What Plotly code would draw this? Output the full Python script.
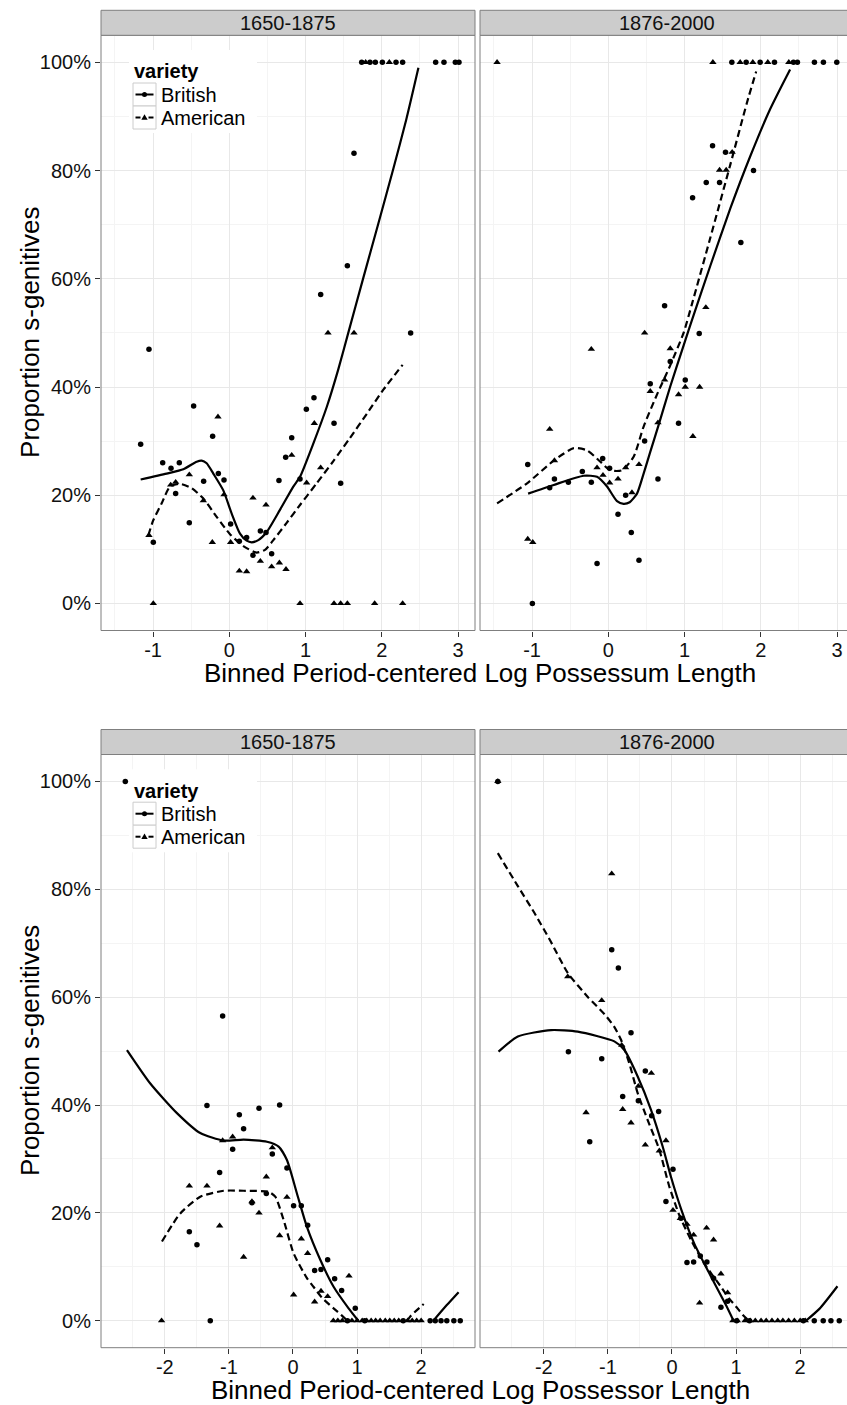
import plotly.graph_objects as go

W, H = 847, 1405
FONT = "Liberation Sans, Arial, Helvetica, sans-serif"

# ---------------- data (x = binned centred log length, y = % s-genitives) ----------------
PERIODS = ["1650-1875", "1876-2000"]
VARIETIES = ["British", "American"]
X_TITLE_TOP = "Binned Period-centered Log Possessum Length"
X_TITLE_BOT = "Binned Period-centered Log Possessor Length"
Y_TITLE = "Proportion s-genitives"
Y_TICKS = [0, 20, 40, 60, 80, 100]
Y_TICKTEXT = ["0%", "20%", "40%", "60%", "80%", "100%"]
X_TICKS_TOP = [-1, 0, 1, 2, 3]
X_TICKS_BOT = [-2, -1, 0, 1, 2]

# --- Possessum, 1650-1875 ---
TL_BRI_X = [-1.054, -1.163, -0.874, -0.765, -0.656, -0.704, -0.468, -0.337, -0.525, -0.219, -0.144, -0.070,
            -0.997, 0.017, 0.131, 0.227, 0.310, 0.407, 0.481, 0.555, 0.651, 0.739, 0.818, 0.927, 1.010,
            1.110, 1.373, 1.460, 2.378, 1.635, 1.548, 1.198,
            1.736, 1.845, 1.915, 2.007, 2.186, 2.273, 2.706, 2.815, 2.964, 3.012]
TL_BRI_Y = [47.0, 29.4, 26.0, 25.0, 26.0, 20.3, 36.5, 22.6, 14.9, 30.9, 24.0, 22.8,
            11.3, 14.7, 11.5, 12.2, 8.9, 13.4, 13.1, 9.2, 22.7, 27.0, 30.6, 23.0, 35.9,
            38.0, 33.3, 22.2, 50.0, 83.2, 62.4, 57.1,
            100, 100, 100, 100, 100, 100, 100, 100, 100, 100]
TL_AME_X = [-0.149, -0.525, -0.704, -0.769, -0.341, -0.070, -1.054, -0.997, -0.223, 0.017, 0.131, 0.227,
            0.310, 0.481, 0.407, 0.555, 0.656, 0.743, 0.818, 1.014, 1.115, 1.198, 1.294, 1.635,
            0.927, 1.373, 1.460, 1.548, 1.906, 2.273, 1.788, 2.098]
TL_AME_Y = [34.5, 23.8, 22.4, 21.9, 19.0, 20.1, 12.6, 0.0, 11.3, 11.3, 6.0, 5.9,
            19.5, 18.2, 7.8, 6.8, 7.5, 6.3, 27.4, 22.3, 33.3, 25.1, 50.0, 50.0,
            0.0, 0.0, 0.0, 0.0, 0.0, 0.0, 100, 100]
TL_BRI_FIT_X = [-1.163, -0.822, -0.603, -0.428, -0.363, -0.297, -0.210, -0.079, 0.031, 0.140, 0.227, 0.293,
                0.380, 0.490, 0.664, 0.839, 0.927, 1.100, 1.280, 1.430, 1.560, 1.750, 1.950, 2.150, 2.320, 2.480]
TL_BRI_FIT_Y = [22.9, 24.0, 24.8, 26.2, 26.4, 25.9, 24.0, 20.9, 16.6, 12.9, 11.6, 11.3,
                11.7, 13.2, 17.3, 21.6, 23.4, 29.5, 36.4, 43.3, 50.0, 59.8, 70.0, 80.3, 89.4, 99.0]
TL_AME_FIT_X = [-1.062, -0.997, -0.887, -0.778, -0.647, -0.494, -0.341, -0.166, 0.009, 0.184, 0.358, 0.468,
                0.577, 0.752, 0.927, 1.145, 1.364, 1.583, 1.801, 2.020, 2.273]
TL_AME_FIT_Y = [12.6, 15.4, 18.5, 21.6, 22.1, 21.3, 19.4, 16.0, 12.8, 10.6, 9.4, 9.9,
                11.7, 14.9, 18.2, 22.2, 26.3, 30.6, 35.0, 39.5, 44.1]

# --- Possessum, 1876-2000 ---
TR_BRI_X = [1.620, 1.808, 1.991, 2.179, 2.428, 2.480, 2.703, 2.821, 2.996,
            1.367, 1.537, 1.904, 1.284, 1.459, 1.105, 1.738, 0.738,
            -1.057, -0.996, -0.769, -0.707, -0.524, -0.341, -0.223, -0.074, 0.017, 0.127, 0.227, 0.301,
            0.402, -0.148, 0.476, 0.550, 0.651, 0.812, 0.921, 1.009, 1.192]
TR_BRI_Y = [100, 100, 100, 100, 100, 100, 100, 100, 100,
            84.6, 83.4, 80.0, 77.8, 77.8, 75.0, 66.7, 55.0,
            25.7, 0.0, 21.4, 23.0, 22.4, 24.4, 22.4, 26.8, 25.0, 16.5, 20.0, 13.1,
            8.0, 7.4, 30.0, 40.6, 23.0, 44.7, 33.3, 41.3, 49.9]
TR_AME_X = [-1.459, 1.371, 1.729, 1.895, 2.092, 2.367,
            1.624, 1.459, 1.546, 1.279,
            -0.769, -0.707, -1.057, -0.991, -0.223, -0.148, -0.070, 0.017, 0.127, 0.227, 0.310, 0.402,
            0.476, 0.550, 0.651, 0.738, 0.812, 0.921, 1.009, 1.109, 1.197]
TR_AME_Y = [100, 100, 100, 100, 100, 100,
            83.4, 80.1, 80.1, 54.7,
            32.2, 26.4, 11.9, 11.3, 47.0, 25.1, 23.7, 22.3, 23.0, 25.1, 20.5, 25.7,
            50.0, 39.2, 33.4, 41.3, 47.1, 38.6, 40.0, 30.9, 40.0]
TR_BRI_FIT_X = [-1.052, -0.716, -0.323, -0.148, -0.017, 0.114, 0.200, 0.280, 0.376, 0.463, 0.550, 0.660,
                0.810, 0.990, 1.100, 1.340, 1.600, 1.860, 2.120, 2.384]
TR_BRI_FIT_Y = [20.3, 21.9, 23.6, 23.4, 21.6, 18.9, 18.4, 18.7, 20.3, 24.0, 28.0, 33.0,
                40.0, 47.8, 52.5, 62.5, 73.0, 82.6, 91.3, 98.7]
TR_AME_FIT_X = [-1.459, -1.066, -0.716, -0.454, -0.279, -0.105, 0.026, 0.179, 0.332, 0.463, 0.638, 0.812,
                0.987, 1.100, 1.336, 1.598, 1.817, 1.939]
TR_AME_FIT_Y = [18.5, 22.2, 26.4, 28.7, 28.3, 26.2, 24.6, 24.6, 27.1, 32.7, 38.6, 44.0,
                50.0, 55.5, 67.5, 81.0, 92.5, 98.3]

# --- Possessor, 1650-1875 ---
BL_BRI_X = [-2.616, -1.097, -1.342, -0.837, -0.530, -0.208, -0.770, -0.941, -0.322, -0.094, -1.144, -0.416,
            -0.640, 0.010, 0.130, 0.229, -1.617, -1.498, 0.541, 0.338, 0.437, 0.650, 0.759, 0.972,
            -1.290, 0.850, 1.120, 1.720, 2.140, 2.220, 2.310, 2.400, 2.510, 2.610]
BL_BRI_Y = [100, 56.5, 39.9, 38.2, 39.4, 40.0, 35.6, 31.8, 30.9, 28.3, 27.5, 23.6,
            21.9, 21.3, 21.3, 17.7, 16.5, 14.1, 11.3, 9.3, 9.5, 7.8, 5.6, 2.3,
            0, 0, 0, 0, 0, 0, 0, 0, 0, 0]
BL_AME_X = [-1.097, -0.941, -0.322, -0.416, -1.617, -1.342, -0.094, -0.640, -0.530, -1.144, -0.208, 0.130,
            -0.770, 0.229, 0.010, 0.338, 0.437, 0.541, 0.874, -2.050,
            0.63, 0.70, 0.77, 0.92, 1.00, 1.08, 1.15, 1.22, 1.29, 1.36, 1.44, 1.51, 1.58, 1.65,
            1.79, 1.86, 1.93, 2.00]
BL_AME_Y = [33.4, 34.1, 32.1, 26.7, 25.0, 25.0, 22.9, 22.1, 20.0, 17.6, 15.8, 15.2,
            11.8, 12.5, 4.8, 3.5, 5.5, 4.5, 8.3, 0.0,
            0, 0, 0, 0, 0, 0, 0, 0, 0, 0, 0, 0, 0, 0,
            0, 0, 0, 0]
BL_BRI_FIT_X = [-2.590, -2.226, -1.810, -1.446, -1.082, -0.770, -0.406, -0.224, -0.094, 0.062, 0.218, 0.426,
                0.634, 0.868, 1.020, None, 2.190, 2.400, 2.584]
BL_BRI_FIT_Y = [50.2, 44.0, 38.5, 34.8, 33.4, 33.6, 33.2, 32.3, 29.8, 23.6, 17.4, 11.3,
                6.3, 2.3, 0.0, None, 0.0, 2.9, 5.3]
BL_AME_FIT_X = [-2.044, -1.758, -1.446, -1.082, -0.770, -0.380, -0.276, -0.146, 0.010, 0.218, 0.320, 0.450,
                0.634, 0.760, 0.850, None, 1.780, 1.830, 2.040]
BL_AME_FIT_Y = [14.7, 19.9, 23.0, 24.1, 24.1, 23.9, 23.0, 18.7, 12.5, 7.9, 6.3, 4.3,
                2.3, 1.0, 0.0, None, 0.0, 0.8, 3.1]

# --- Possessor, 1876-2000 ---
BR_BRI_X = [-2.717, -0.940, -0.836, -0.639, -1.616, -1.096, -0.416, -0.769, -0.525, -0.208, -0.317, -1.283,
            0.016, -0.094, 0.140, 0.234, 0.338, 0.442, 0.545, 0.649, 0.868, 0.764,
            1.01, 1.21, 2.05, 2.22, 2.36, 2.48, 2.61]
BR_BRI_Y = [100, 68.8, 65.4, 53.4, 49.9, 48.6, 46.3, 41.6, 40.8, 38.8, 38.0, 33.2,
            28.1, 22.1, 19.0, 10.8, 10.9, 12.0, 10.9, 7.9, 3.6, 2.5,
            0, 0, 0, 0, 0, 0, 0]
BR_AME_X = [-2.717, -0.940, -1.626, -1.096, -0.784, -0.322, -0.525, -1.340, -0.769, -0.639, -0.416, -0.197,
            -0.094, 0.016, 0.130, 0.234, 0.338, 0.540, 0.649, 0.764, 0.868, 0.431,
            0.95, 1.02, 1.14, 1.22, 1.30, 1.39, 1.47, 1.56, 1.65, 1.73, 1.82, 1.91, 2.00, 2.08]
BR_AME_Y = [100, 82.9, 63.8, 59.4, 51.1, 45.9, 43.5, 38.6, 39.2, 36.7, 32.6, 31.5,
            33.4, 20.5, 19.0, 17.9, 15.9, 17.2, 15.0, 8.7, 5.2, 3.3,
            0, 0, 0, 0, 0, 0, 0, 0, 0, 0, 0, 0, 0, 0]
BR_BRI_FIT_X = [-2.706, -2.405, -1.886, -1.470, -0.899, -0.743, -0.535, -0.327, -0.145, -0.016, 0.140, 0.348,
                0.608, 0.842, 0.960, None, 2.090, 2.300, 2.582]
BR_BRI_FIT_Y = [49.9, 52.7, 53.9, 53.6, 51.8, 50.2, 45.3, 39.1, 32.3, 26.7, 20.8, 14.3,
                8.2, 2.9, 0.0, None, 0.0, 2.2, 6.4]
BR_AME_FIT_X = [-2.717, -2.400, -2.145, -1.900, -1.626, -1.310, -1.050, -0.900, -0.795, -0.665, -0.535, -0.379,
                -0.197, -0.042, 0.114, 0.296, 0.504, 0.764, 0.900, 1.023, 1.110, 1.200]
BR_AME_FIT_Y = [86.7, 80.5, 75.6, 70.5, 64.5, 60.0, 56.8, 54.5, 52.1, 47.7, 42.2, 37.2,
                31.7, 24.9, 19.6, 15.0, 10.6, 6.3, 4.0, 2.3, 1.0, 0.0]


# ---------------- layout geometry (page pixels -> paper fractions) ----------------
def fx(px):
    return px / W


def fy(py):
    return 1 - py / H


LEFT_X0, LEFT_X1 = 101, 475
RIGHT_X0, RIGHT_X1 = 480, 847
PANEL_TOP = [(35.3, 630.5), (754.5, 1347.7)]
STRIP_H = 25
XR_LEFT = [(-1.683, 3.222), (-2.995, 2.840)]


def right_range(r):
    span = (r[1] - r[0]) * (RIGHT_X1 - RIGHT_X0) / (LEFT_X1 - LEFT_X0)
    return [r[0], r[0] + span]


fig = go.Figure()

panels = [
    (1, (TL_BRI_X, TL_BRI_Y), (TL_AME_X, TL_AME_Y), (TL_BRI_FIT_X, TL_BRI_FIT_Y), (TL_AME_FIT_X, TL_AME_FIT_Y)),
    (2, (TR_BRI_X, TR_BRI_Y), (TR_AME_X, TR_AME_Y), (TR_BRI_FIT_X, TR_BRI_FIT_Y), (TR_AME_FIT_X, TR_AME_FIT_Y)),
    (3, (BL_BRI_X, BL_BRI_Y), (BL_AME_X, BL_AME_Y), (BL_BRI_FIT_X, BL_BRI_FIT_Y), (BL_AME_FIT_X, BL_AME_FIT_Y)),
    (4, (BR_BRI_X, BR_BRI_Y), (BR_AME_X, BR_AME_Y), (BR_BRI_FIT_X, BR_BRI_FIT_Y), (BR_AME_FIT_X, BR_AME_FIT_Y)),
]

DASH = "7px,4px"
for n, bri, ame, bfit, afit in panels:
    xa = "x" if n == 1 else f"x{n}"
    ya = "y" if n == 1 else f"y{n}"
    fig.add_trace(go.Scatter(x=bri[0], y=bri[1], mode="markers", xaxis=xa, yaxis=ya, showlegend=False,
                             name=VARIETIES[0], marker=dict(symbol="circle", size=5.5, color="black")))
    fig.add_trace(go.Scatter(x=ame[0], y=ame[1], mode="markers", xaxis=xa, yaxis=ya, showlegend=False,
                             name=VARIETIES[1], marker=dict(symbol="triangle-up", size=6.5, color="black")))
    fig.add_trace(go.Scatter(x=bfit[0], y=bfit[1], mode="lines", xaxis=xa, yaxis=ya, showlegend=False,
                             connectgaps=False, line=dict(color="black", width=2.2, shape="spline", smoothing=0.6)))
    fig.add_trace(go.Scatter(x=afit[0], y=afit[1], mode="lines", xaxis=xa, yaxis=ya, showlegend=False,
                             connectgaps=False,
                             line=dict(color="black", width=2.2, dash=DASH, shape="spline", smoothing=0.6)))

GRID_MAJOR = "#E8E8E8"
GRID_MINOR = "#F4F4F4"
TICKFONT = dict(family=FONT, size=20, color="#111111")

layout_axes = {}
for n in range(1, 5):
    row = 0 if n <= 2 else 1
    left = n in (1, 3)
    xkey = "xaxis" if n == 1 else f"xaxis{n}"
    ykey = "yaxis" if n == 1 else f"yaxis{n}"
    xr = list(XR_LEFT[row]) if left else right_range(XR_LEFT[row])
    xt = X_TICKS_TOP if row == 0 else X_TICKS_BOT
    minor_x = [t + 0.5 for t in range(-4, 4)]
    py0, py1 = PANEL_TOP[row]
    layout_axes[xkey] = dict(
        domain=[fx(LEFT_X0), fx(LEFT_X1)] if left else [fx(RIGHT_X0), 1.0],
        range=xr, anchor="y" if n == 1 else f"y{n}",
        tickmode="array", tickvals=xt, ticktext=[str(t) for t in xt],
        ticks="outside", ticklen=5, tickwidth=1, tickcolor="#333333", ticklabelstandoff=-4,
        tickfont=TICKFONT, showgrid=True, gridcolor=GRID_MAJOR, gridwidth=1,
        minor=dict(tickmode="array", tickvals=minor_x, showgrid=True, gridcolor=GRID_MINOR, gridwidth=0.6, ticks=""),
        zeroline=False, showline=False, fixedrange=True,
    )
    layout_axes[ykey] = dict(
        domain=[fy(py1), fy(py0)], range=[-5, 105], anchor="x" if n == 1 else f"x{n}",
        tickmode="array", tickvals=Y_TICKS, ticktext=Y_TICKTEXT,
        ticks="outside" if left else "", ticklen=5, tickwidth=1, tickcolor="#333333",
        showticklabels=left, tickfont=TICKFONT,
        showgrid=True, gridcolor=GRID_MAJOR, gridwidth=1,
        minor=dict(tickmode="array", tickvals=[10, 30, 50, 70, 90], showgrid=True, gridcolor=GRID_MINOR,
                   gridwidth=0.6, ticks=""),
        zeroline=False, showline=False, fixedrange=True,
    )

shapes = []
annotations = []
BORDER = "#7F7F7F"
for row in range(2):
    py0, py1 = PANEL_TOP[row]
    for col in range(2):
        x0 = LEFT_X0 if col == 0 else RIGHT_X0
        x1 = LEFT_X1 if col == 0 else RIGHT_X1 + 10
        shapes.append(dict(type="rect", xref="paper", yref="paper", x0=fx(x0), x1=fx(x1), y0=fy(py1), y1=fy(py0),
                           line=dict(color=BORDER, width=1), fillcolor="rgba(0,0,0,0)", layer="above"))
        shapes.append(dict(type="rect", xref="paper", yref="paper", x0=fx(x0), x1=fx(x1),
                           y0=fy(py0), y1=fy(py0 - STRIP_H),
                           line=dict(color=BORDER, width=1), fillcolor="#CCCCCC", layer="above"))
        cx = (LEFT_X0 + LEFT_X1) / 2 if col == 0 else (RIGHT_X0 + RIGHT_X0 + (LEFT_X1 - LEFT_X0)) / 2
        annotations.append(dict(text=PERIODS[col], xref="paper", yref="paper", x=fx(cx), y=fy(py0 - STRIP_H / 2),
                                showarrow=False, xanchor="center", yanchor="middle",
                                font=dict(family=FONT, size=20, color="#111111")))
    annotations.append(dict(text=X_TITLE_TOP if row == 0 else X_TITLE_BOT, xref="paper", yref="paper",
                            x=fx(480), y=fy(py1 + 42), showarrow=False, xanchor="center", yanchor="middle",
                            font=dict(family=FONT, size=26, color="black")))
    annotations.append(dict(text=Y_TITLE, xref="paper", yref="paper", textangle=-90,
                            x=fx(30), y=fy((py0 + py1) / 2), showarrow=False, xanchor="center", yanchor="middle",
                            font=dict(family=FONT, size=26, color="black")))

    # legend (inside first panel of each row)
    off = 0 if row == 0 else 719.2
    shapes.append(dict(type="rect", xref="paper", yref="paper", x0=fx(129), x1=fx(257),
                       y0=fy(133 + off), y1=fy(50 + off), line=dict(width=0), fillcolor="white", layer="above"))
    annotations.append(dict(text="<b>variety</b>", xref="paper", yref="paper", x=fx(132), y=fy(71.5 + off),
                            showarrow=False, xanchor="left", yanchor="middle",
                            font=dict(family=FONT, size=20, color="black")))
    for i, lab in enumerate(VARIETIES):
        ky0 = 83 + 23 * i + off
        shapes.append(dict(type="rect", xref="paper", yref="paper", x0=fx(133), x1=fx(156),
                           y0=fy(ky0 + 23), y1=fy(ky0), line=dict(color="#CCCCCC", width=1),
                           fillcolor="white", layer="above"))
        cy = ky0 + 11.5
        if i == 0:
            shapes.append(dict(type="line", xref="paper", yref="paper", x0=fx(135.5), x1=fx(153.5),
                               y0=fy(cy), y1=fy(cy), line=dict(color="black", width=2), layer="above"))
            shapes.append(dict(type="circle", xref="paper", yref="paper", x0=fx(142), x1=fx(147),
                               y0=fy(cy + 2.5), y1=fy(cy - 2.5), line=dict(width=0), fillcolor="black",
                               layer="above"))
        else:
            for a, b in [(135.5, 140.5), (148.5, 153.5)]:
                shapes.append(dict(type="line", xref="paper", yref="paper", x0=fx(a), x1=fx(b),
                                   y0=fy(cy), y1=fy(cy), line=dict(color="black", width=2), layer="above"))
            path = f"M {fx(141.3)},{fy(cy + 2.3)} L {fx(147.7)},{fy(cy + 2.3)} L {fx(144.5)},{fy(cy - 3.2)} Z"
            shapes.append(dict(type="path", xref="paper", yref="paper", path=path, line=dict(width=0),
                               fillcolor="black", layer="above"))
        annotations.append(dict(text=lab, xref="paper", yref="paper", x=fx(159), y=fy(cy),
                                showarrow=False, xanchor="left", yanchor="middle",
                                font=dict(family=FONT, size=20, color="black")))

fig.update_layout(
    width=W, height=H, margin=dict(l=0, r=0, t=0, b=0),
    paper_bgcolor="white", plot_bgcolor="white",
    font=dict(family=FONT, color="black"),
    shapes=shapes, annotations=annotations, showlegend=False,
    **layout_axes,
)

# remove the default 8px page margin so the 847x1405 figure fills the window exactly
fig.write_html("out.html", config={"displayModeBar": False},
               post_script="document.body.style.margin='0';document.body.style.overflow='hidden';")
